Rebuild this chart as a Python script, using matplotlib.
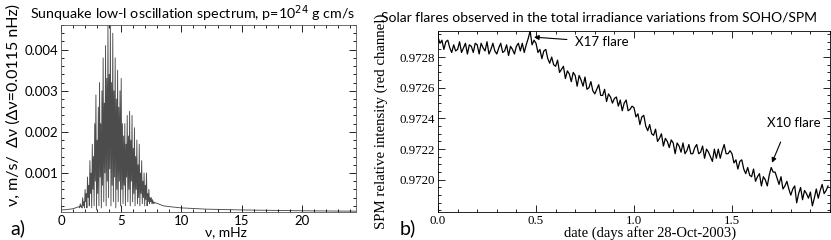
import numpy as np
import matplotlib.pyplot as plt
from matplotlib.ticker import MultipleLocator

# ---- panel a: sunquake spectrum (values in 1e-4 m/s) ----
spec_peak_f = np.arange(1.5, 7.81, 0.1)
spec_peaks = [2, 2.5, 2, 4, 3, 6, 5, 9, 7, 13,
              10, 17, 14, 22, 29, 18, 26, 32, 22, 30,
              38, 27, 41, 33, 46, 34, 46, 32, 44, 30,
              38, 28, 35, 26, 30, 33, 22, 19, 22, 17,
              24, 19, 25, 18, 24, 16, 21, 14, 18, 12,
              17, 10, 13, 8, 10, 7, 10, 5, 6, 4,
              4, 3.5, 3, 2.8]
spec_troughs = [1.5, 1.8, 1.5, 2, 1.5, 3, 1.5, 4, 2, 5,
                1.5, 6, 2, 8, 1, 5, 2, 9, 1.5, 7,
                3, 10, 2, 8, 4, 11, 2, 7, 3, 9,
                1.5, 6, 3, 8, 2, 6, 2.5, 7, 2, 9,
                3, 6, 2, 8, 3, 5, 2, 6, 2.5, 4,
                2, 5, 2.5, 4, 2, 3.5, 2, 3, 2.5, 3,
                2.5, 2.5, 2.6]
base_f_lo = [0, 0.5, 1.0, 1.5]
base_lo = [1.0, 1.1, 1.3, 1.8]
base_f_hi = [7.8, 8.5, 9, 10, 12, 15, 20, 24.5]
base_hi = [2.8, 2.0, 1.8, 1.5, 1.2, 1.0, 0.8, 0.7]

# ---- panel b: SPM red channel (values in 1e-5 above 0.9720) ----
t_days = np.arange(0, 2.0, 0.01)
spm = [93, 89, 91, 85, 90, 91, 86, 83, 88, 84,
       85, 90, 83, 86, 89, 82, 88, 87, 83, 89,
       88, 82, 89, 86, 84, 90, 82, 85, 89, 84,
       82, 86, 89, 83, 84, 88, 81, 87, 85, 82,
       87, 89, 84, 89, 83, 88, 92, 97, 88, 91,
       89, 83, 85, 79, 84, 85, 79, 76, 80, 75,
       74, 78, 70, 72, 74, 66, 71, 69, 64, 70,
       68, 61, 68, 65, 61, 67, 59, 60, 64, 58,
       56, 59, 62, 55, 55, 59, 51, 56, 54, 50,
       53, 54, 48, 52, 45, 50, 52, 45, 46, 48,
       47, 41, 43, 36, 41, 42, 35, 32, 36, 30,
       29, 33, 25, 27, 30, 22, 27, 25, 21, 26,
       24, 17, 24, 22, 18, 24, 17, 19, 23, 17,
       17, 21, 23, 17, 18, 22, 14, 20, 18, 15,
       12, 20, 14, 20, 14, 19, 23, 17, 17, 19,
       17, 11, 13, 7, 12, 13, 7, 4, 8, 3,
       2, 7, -1, 2, 4, -4, 2, 0, -4, 3,
       8, 5, 5, 1, -3, 2, -6, -4, -1, -6,
       -10, -6, -4, -15, -9, -5, -13, -7, -9, -12,
       -8, -17, -12, -6, -12, -7, -3, -9, -7, -4]

sans = ['Lato', 'DejaVu Sans']
serif = ['Liberation Serif', 'DejaVu Serif']

W, H = 831, 240
fig = plt.figure(figsize=(W / 100, H / 100), dpi=100)

# interleave peaks and troughs into one trace
f_line = []
v_line = []
for i, p in enumerate(spec_peaks):
    f_line.append(spec_peak_f[i])
    v_line.append(p)
    if i < len(spec_troughs):
        f_line.append(spec_peak_f[i] + 0.05)
        v_line.append(spec_troughs[i])
f_all = base_f_lo + f_line[1:] + base_f_hi[1:]
v_all = base_lo + v_line[1:] + base_hi[1:]

ax1 = fig.add_axes([61/W, 28/H, 295/W, 187/H])
ax1.plot(f_all, np.array(v_all) * 1e-4, color='black', lw=0.65, alpha=0.7)
ax1.set_xlim(0, 24.5)
ax1.set_ylim(0.00005, 0.0046)
ax1.xaxis.set_major_locator(MultipleLocator(5))
ax1.xaxis.set_minor_locator(MultipleLocator(1))
ax1.yaxis.set_minor_locator(MultipleLocator(0.0002))
ax1.set_yticks([0.001, 0.002, 0.003, 0.004])
ax1.set_yticklabels(['0.001', '0.002', '0.003', '0.004'])
ax1.tick_params(which='both', direction='in', top=True, right=True,
                labelsize=9.5, pad=2, width=0.6)
ax1.tick_params(which='major', length=5)
ax1.tick_params(which='minor', length=2.5)
for lab in ax1.get_xticklabels() + ax1.get_yticklabels():
    lab.set_family(sans)
for s in ax1.spines.values():
    s.set_linewidth(0.6)
    s.set_color('#555555')
ax1.set_xlabel('ν, mHz', family=sans, fontsize=10, va='center')
ax1.xaxis.set_label_coords(0.56, -0.11)
ax1.set_ylabel('ν, m/s/  Δν (Δν=0.0115 nHz)', family=sans, fontsize=11.5)
ax1.yaxis.set_label_coords(-0.135, 0.57)
fig.text(30/W, 1 - 14/H, 'Sunquake low-l oscillation spectrum, p=10$^{24}$ g cm/s',
         family=sans, fontsize=10.3, va='center', ha='left')
fig.text(10/W, 1 - 228/H, 'a)', family=sans, fontsize=14, va='center')

ax2 = fig.add_axes([438/W, 28/H, 392/W, 181/H])
ax2.plot(t_days, 0.9720 + np.array(spm) * 1e-5, color='black', lw=0.9)
ax2.set_xlim(0, 2.0)
ax2.set_ylim(0.97179, 0.97297)
ax2.xaxis.set_minor_locator(MultipleLocator(0.1))
ax2.set_yticks([0.9720, 0.9722, 0.9724, 0.9726, 0.9728])
ax2.set_yticklabels(['0.9720', '0.9722', '0.9724', '0.9726', '0.9728'])
ax2.yaxis.set_minor_locator(MultipleLocator(0.00005))
ax2.set_xticks([0, 0.5, 1.0, 1.5])
ax2.set_xticklabels(['0.0', '0.5', '1.0', '1.5'])
ax2.tick_params(which='both', direction='in', top=True, right=True,
                labelsize=9.3, pad=2, width=0.6)
ax2.tick_params(which='major', length=5)
ax2.tick_params(which='minor', length=2.5)
for lab in ax2.get_xticklabels() + ax2.get_yticklabels():
    lab.set_family(serif)
for s in ax2.spines.values():
    s.set_linewidth(0.6)
ax2.set_xlabel('date (days after 28-Oct-2003)', family=serif, fontsize=10.5, va='center')
ax2.xaxis.set_label_coords(0.54, -0.115)
ax2.set_ylabel('SPM relative intensity (red channel)', family=serif, fontsize=10.7)
ax2.yaxis.set_label_coords(-0.128, 0.5)
fig.text(817/W, 1 - 17/H,
         'Solar flares observed in the total irradiance variations from SOHO/SPM',
         family=sans, fontsize=10.0, va='center', ha='right')
fig.text(400/W, 1 - 228/H, 'b)', family=sans, fontsize=14, va='center')

ax2.annotate('X17 flare', xy=(0.49, 0.97293), xytext=(0.70, 0.972898),
             family=sans, fontsize=9.5, va='center',
             arrowprops=dict(arrowstyle='-|>', color='black', lw=0.8,
                             mutation_scale=7, shrinkA=4, shrinkB=0))
ax2.annotate('X10 flare', xy=(1.704, 0.972111), xytext=(1.68, 0.97237),
             family=sans, fontsize=9.5, va='center',
             arrowprops=dict(arrowstyle='-|>', color='black', lw=0.8,
                             mutation_scale=7, shrinkA=8, shrinkB=0,
                             relpos=(0.35, 0)))

fig.savefig('out.png', dpi=100)
